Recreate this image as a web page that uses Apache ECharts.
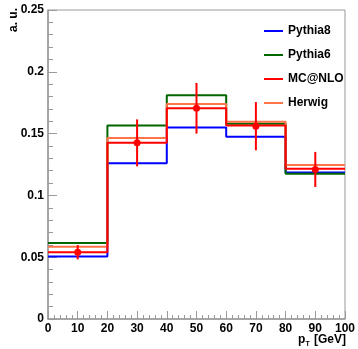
<!DOCTYPE html>
<html><head><meta charset="utf-8">
<script src="https://cdn.jsdelivr.net/npm/echarts@6/dist/echarts.min.js"></script>
<style>html,body{margin:0;padding:0;background:#fff}#c{width:358px;height:349px}</style>
</head><body><div id="c"></div>
<script>
const binEdges = [0, 20, 40, 60, 80, 100];
const pythia8 = [0.0505, 0.126, 0.155, 0.1475, 0.1185];
const pythia6 = [0.0615, 0.1565, 0.181, 0.158, 0.1175];
const mcnlo = [0.054, 0.1425, 0.1705, 0.1565, 0.1215];
const herwig = [0.0585, 0.1465, 0.174, 0.1595, 0.1245];
const pointX = [10, 30, 50, 70, 90];
const pointY = [0.054, 0.1425, 0.1705, 0.156, 0.121];
const pointErr = [0.0058, 0.019, 0.0205, 0.0195, 0.0142];
const yTicks = [0, 0.05, 0.1, 0.15, 0.2, 0.25];

const FONT = 'Liberation Sans, Arial, Helvetica, sans-serif';
function stepData(vals) {
  const d = vals.map((v, i) => [binEdges[i], v]);
  d.push([binEdges[binEdges.length - 1], vals[vals.length - 1]]);
  return d;
}
function histo(name, vals, color, z) {
  return { name, type: 'line', step: 'end', data: stepData(vals), showSymbol: false,
    lineStyle: { color, width: 2 }, itemStyle: { color }, z, animation: false };
}
const axisGray = '#9a9a9a';
const chart = echarts.init(document.getElementById('c'), null, { renderer: 'canvas' });
chart.setOption({
  animation: false,
  grid: { left: 48, right: 12, top: 10, bottom: 30, show: true, borderColor: axisGray, borderWidth: 1 },
  legend: {
    data: ['Pythia8', 'Pythia6', 'MC@NLO', 'Herwig'],
    orient: 'vertical', left: 259, top: 19, itemWidth: 19, itemHeight: 2, itemGap: 10,
    icon: 'rect',
    textStyle: { fontFamily: FONT, fontWeight: 'bold', fontSize: 12, color: '#000', lineHeight: 14 }
  },
  xAxis: {
    type: 'value', min: 0, max: 100, interval: 10,
    axisLine: { onZero: false, lineStyle: { color: axisGray, width: 1.5 } },
    axisTick: { inside: true, length: 8, lineStyle: { color: axisGray, width: 1 } },
    minorTick: { show: true, splitNumber: 5, length: 4, lineStyle: { color: axisGray, width: 1 } },
    splitLine: { show: false },
    axisLabel: { fontFamily: FONT, fontWeight: 'bold', fontSize: 12, color: '#000', margin: 4 }
  },
  yAxis: {
    type: 'value', min: 0, max: 0.25, interval: 0.05,
    axisLine: { onZero: false, lineStyle: { color: axisGray, width: 1.5 } },
    axisTick: { inside: true, length: 9, lineStyle: { color: axisGray, width: 1 } },
    minorTick: { show: true, splitNumber: 5, length: 5, lineStyle: { color: axisGray, width: 1 } },
    splitLine: { show: false },
    axisLabel: { fontFamily: FONT, fontWeight: 'bold', fontSize: 12, color: '#000', margin: 4,
      formatter: v => { const t = yTicks.find(x => Math.abs(x - v) < 1e-9); return t === 0 ? '0' : String(+v.toFixed(2)); } }
  },
  graphic: [
    { type: 'text', x: 14, y: 8, rotation: Math.PI / 2,
      style: { text: 'a. u.', font: 'bold 12px ' + FONT, fill: '#000', align: 'right', verticalAlign: 'middle' } },
    { type: 'text', x: 346, y: 348,
      style: { text: '{p|p}{s|T}{p| [GeV]}', align: 'right', verticalAlign: 'bottom', fill: '#000',
        rich: { p: { font: 'bold 12px ' + FONT, fill: '#000', verticalAlign: 'top', lineHeight: 14 },
                s: { font: 'bold 7px ' + FONT, fill: '#000', verticalAlign: 'bottom', lineHeight: 14, padding: [6, 1, 0, 0] } } } }
  ],
  series: [
    histo('Pythia8', pythia8, '#0000ff', 2),
    histo('Pythia6', pythia6, '#006600', 3),
    histo('Herwig', herwig, '#ff7448', 4),
    histo('MC@NLO', mcnlo, '#ff0000', 5),
    { name: 'MC@NLO', type: 'custom', z: 6, animation: false,
      data: pointX.map((x, i) => [x, pointY[i], pointErr[i]]),
      renderItem: (params, api) => {
        const x = api.value(0), y = api.value(1), e = api.value(2);
        const top = api.coord([x, y + e]), bot = api.coord([x, y - e]), c = api.coord([x, y]);
        return { type: 'group', children: [
          { type: 'line', shape: { x1: top[0], y1: top[1], x2: bot[0], y2: bot[1] }, style: { stroke: '#ff0000', lineWidth: 2 } },
          { type: 'circle', shape: { cx: c[0], cy: c[1], r: 3.5 }, style: { fill: '#ff0000' } }
        ] };
      } }
  ]
});
</script></body></html>
